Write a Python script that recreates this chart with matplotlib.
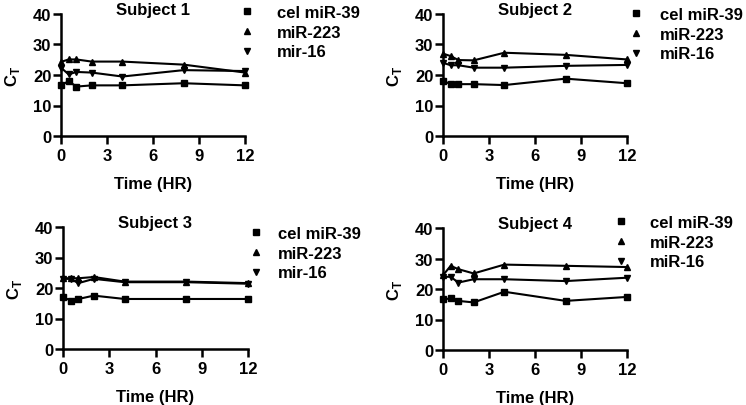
import matplotlib
matplotlib.use("Agg")
import matplotlib.pyplot as plt
from matplotlib.lines import Line2D

plt.rcParams['font.family'] = ['Liberation Sans', 'DejaVu Sans']
plt.rcParams['font.weight'] = 'bold'

time_hr = [0, 0.5, 1, 2, 4, 8, 12]

subjects = ["Subject 1", "Subject 2", "Subject 3", "Subject 4"]

s1_cel39 = [16.6, 18.0, 16.2, 16.6, 16.6, 17.3, 16.6]
s1_mir223 = [24.3, 25.1, 25.1, 24.4, 24.4, 23.4, 20.8]
s1_mir16 = [22.4, 20.2, 21.0, 20.8, 19.5, 21.6, 21.3]

s2_cel39 = [18.1, 17.0, 17.0, 17.0, 16.7, 18.8, 17.3]
s2_mir223 = [27.0, 26.2, 24.9, 24.8, 27.3, 26.6, 25.1]
s2_mir16 = [24.0, 23.2, 23.2, 22.4, 22.4, 23.0, 23.3]

s3_cel39 = [17.0, 15.9, 16.4, 17.5, 16.4, 16.4, 16.4]
s3_mir223 = [23.2, 23.2, 23.2, 23.6, 22.1, 22.1, 21.6]
s3_mir16 = [23.0, 23.0, 21.6, 23.0, 21.9, 21.9, 21.4]

s4_cel39 = [16.6, 16.9, 16.1, 15.6, 19.1, 16.1, 17.4]
s4_mir223 = [24.5, 27.6, 26.5, 25.1, 28.0, 27.6, 27.2]
s4_mir16 = [24.0, 24.0, 22.1, 23.2, 23.2, 22.6, 23.7]

legend_labels = [
    ["cel miR-39", "miR-223", "mir-16"],
    ["cel miR-39", "miR-223", "miR-16"],
    ["cel miR-39", "miR-223", "mir-16"],
    ["cel miR-39", "miR-223", "miR-16"],
]
series = [
    (s1_cel39, s1_mir223, s1_mir16),
    (s2_cel39, s2_mir223, s2_mir16),
    (s3_cel39, s3_mir223, s3_mir16),
    (s4_cel39, s4_mir223, s4_mir16),
]
markers = ['s', '^', 'v']

W, H = 746, 406
FS = 12
fig = plt.figure(figsize=(W / 100, H / 100), dpi=100)

# axes positions in pixels: (left, top, right, bottom)
ax_px = [(61, 15, 245, 137), (443, 15, 627, 137), (63, 228, 248, 350), (443, 229, 627, 351)]
# legend: (left px, top px, handletextpad)
legend_px = [(240, 6, 1.4), (629, 8, 1.04), (249, 227, 0.92), (614, 216, 1.35)]

for i, (l, t, r, b) in enumerate(ax_px):
    ax = fig.add_axes([l / W, 1 - b / H, (r - l) / W, (b - t) / H])
    for vals, m in zip(series[i], markers):
        ax.plot(time_hr, vals, color='black', lw=1.5, marker=m, ms=5, clip_on=False, zorder=3)
    ax.set_xlim(0, 12)
    ax.set_ylim(0, 40)
    ax.set_xticks([0, 3, 6, 9, 12])
    ax.set_yticks([0, 10, 20, 30, 40])
    for s in ['top', 'right']:
        ax.spines[s].set_visible(False)
    for s in ['left', 'bottom']:
        ax.spines[s].set_linewidth(1.8)
    ax.tick_params(direction='out', length=5.5, width=1.8, labelsize=FS)
    ax.tick_params(axis='x', pad=3.5)
    ax.tick_params(axis='y', pad=1.5)
    for lab in ax.get_xticklabels() + ax.get_yticklabels():
        lab.set_fontweight('bold')
    ax.set_title(subjects[i], fontsize=FS, fontweight='bold', pad=0, y=0.997)
    ax.set_xlabel("Time (HR)", fontsize=FS, fontweight='bold', labelpad=9)
    ax.set_ylabel(r"C$_\mathregular{T}$", fontsize=FS, fontweight='bold', labelpad=8)
    handles = [Line2D([], [], color='black', marker=m, ls='none', ms=4.5) for m in markers]
    lx, ly, htp = legend_px[i]
    fig.legend(handles, legend_labels[i], loc='upper left',
               bbox_to_anchor=(lx / W, 1 - ly / H), frameon=False,
               prop={'size': FS, 'weight': 'bold'}, handlelength=0.8,
               handletextpad=htp, labelspacing=0.28, borderpad=0, borderaxespad=0)

fig.savefig("out.png", dpi=100)
